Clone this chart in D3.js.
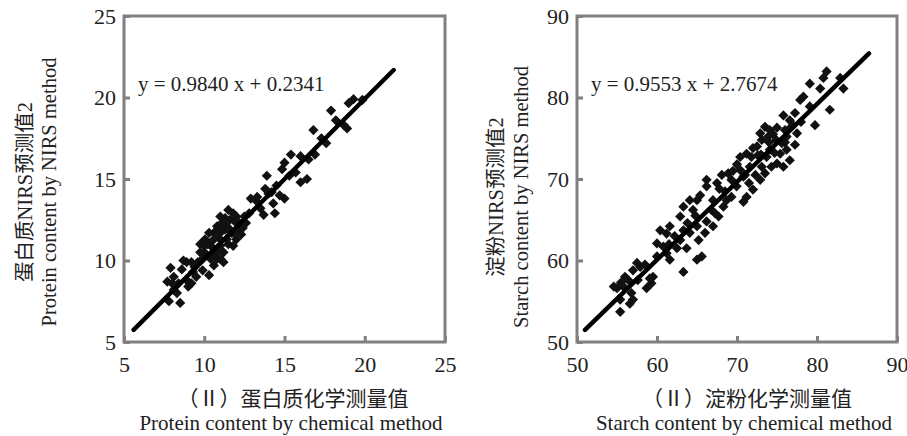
<!DOCTYPE html>
<html>
<head>
<meta charset="utf-8">
<script src="https://cdn.jsdelivr.net/npm/d3@7"></script>
<style>
  body { margin: 0; background: #fff; }
  text { font-family: "Liberation Serif", "Noto Sans CJK SC", serif; fill: #222; }
</style>
</head>
<body>
<svg id="chart" width="907" height="436"></svg>
<script>
// protein panel: [chemical, NIRS]
var proteinPoints = [
  [19.3, 19.9], [19.0, 19.65], [19.85, 19.85], [18.9, 18.1], [18.7, 18.3], [17.9, 19.2],
  [18.2, 18.6], [16.8, 18.0], [17.6, 17.2], [16.9, 16.5], [16.0, 16.4], [15.4, 16.5],
  [15.0, 16.0], [16.4, 15.0], [16.0, 14.8], [15.7, 15.4], [14.85, 15.6], [13.9, 15.2],
  [14.2, 14.2], [14.5, 14.6], [15.0, 13.8], [14.3, 13.5], [14.4, 12.9], [13.7, 12.8],
  [13.8, 14.4], [12.9, 13.8], [13.2, 13.7], [12.5, 12.7], [12.25, 12.1], [11.8, 11.7],
  [11.5, 13.1], [11.6, 12.5], [11.8, 12.9], [12.0, 11.3], [11.8, 10.9], [11.4, 11.3],
  [11.0, 11.7], [10.8, 12.1], [10.6, 11.7], [10.3, 11.7], [10.4, 10.9], [10.0, 10.9],
  [9.75, 10.5], [10.2, 10.3], [10.6, 10.5], [10.8, 10.1], [11.2, 9.9], [10.6, 9.7],
  [10.3, 9.1], [9.9, 9.4], [9.6, 9.9], [9.3, 9.3], [8.9, 9.9], [8.7, 10.0],
  [8.6, 9.45], [9.1, 8.6], [8.9, 8.8], [8.1, 9.0], [7.9, 9.55], [7.7, 8.7],
  [8.1, 8.2], [7.8, 7.5], [8.5, 7.4], [8.3, 8.0], [9.0, 8.4], [9.75, 11.0],
  [10.05, 11.3], [11.0, 10.9], [11.2, 10.5], [11.7, 11.7], [12.1, 11.9], [11.4, 12.1],
  [11.1, 12.3], [11.0, 12.7], [12.8, 12.9], [13.3, 13.9], [10.8, 10.5], [10.4, 10.1],
  [10.0, 10.5], [9.5, 9.0], [12.3, 11.6], [11.9, 12.4], [14.7, 14.0], [15.3, 15.2],
  [10.2, 11.0], [10.5, 11.2], [10.9, 11.4], [11.3, 11.9], [11.6, 11.9], [12.2, 12.3],
  [12.4, 12.0], [12.6, 12.3], [9.9, 10.1], [9.4, 9.6], [9.2, 9.9], [10.5, 10.3],
  [11.0, 10.1], [11.5, 11.0], [12.0, 12.7], [11.3, 12.6], [10.9, 11.9], [9.2, 8.6],
  [8.4, 8.6], [8.0, 8.6], [13.5, 13.2], [14.0, 14.1], [16.5, 16.2], [17.3, 17.5]
];

// starch panel: [chemical, NIRS]
var starchPoints = [
  [81.2, 83.2], [80.8, 82.4], [82.9, 82.4], [83.3, 81.1], [79.1, 81.7], [78.3, 80.1],
  [80.4, 81.1], [81.6, 78.5], [79.75, 76.6], [77.25, 78.1], [76.6, 77.2], [75.8, 77.8],
  [77.5, 75.6], [77.25, 74.2], [76.2, 75.2], [76.6, 72.3], [75.8, 71.5], [75.0, 71.9],
  [75.4, 73.1], [74.1, 73.6], [73.5, 76.4], [72.9, 75.6], [73.9, 75.2], [73.1, 74.8],
  [72.5, 74.0], [71.8, 72.7], [71.2, 73.1], [70.4, 72.7], [73.7, 72.7], [73.1, 71.5],
  [72.9, 69.9], [72.0, 68.7], [71.2, 67.8], [70.8, 67.2], [70.4, 71.1], [70.8, 70.3],
  [69.95, 69.1], [69.3, 67.8], [68.7, 67.4], [68.3, 66.6], [68.9, 70.7], [68.1, 70.5],
  [69.3, 69.9], [67.5, 69.5], [67.0, 67.4], [67.25, 65.8], [67.7, 65.4], [67.0, 64.2],
  [66.2, 64.8], [66.2, 69.9], [66.2, 69.1], [65.4, 68.0], [65.0, 67.4], [64.1, 67.4],
  [63.3, 66.6], [62.9, 65.4], [64.5, 66.2], [65.0, 64.2], [66.0, 63.4], [65.2, 62.5],
  [64.1, 63.4], [63.3, 63.7], [62.9, 62.5], [62.5, 61.5], [63.7, 61.5], [61.6, 64.2],
  [61.2, 63.3], [60.4, 63.7], [60.0, 62.1], [60.8, 61.7], [61.6, 60.1], [65.6, 60.5],
  [65.0, 60.1], [63.3, 58.6], [59.5, 58.0], [58.7, 56.6], [57.5, 59.7], [57.9, 59.2],
  [57.0, 58.8], [56.0, 58.0], [55.8, 56.8], [55.0, 56.6], [56.8, 56.0], [55.4, 55.2],
  [57.0, 55.2], [56.6, 54.7], [55.4, 53.7], [59.1, 57.8], [59.3, 57.2], [54.6, 56.8],
  [60.0, 60.5], [61.2, 60.9], [74.9, 74.8], [75.6, 74.4], [76.2, 73.6], [74.3, 71.5],
  [73.5, 70.7], [71.6, 71.5], [74.1, 76.0], [76.8, 76.4], [77.9, 79.7], [79.1, 78.9],
  [72.0, 73.8], [72.6, 72.9], [74.5, 75.5], [75.0, 76.3], [76.0, 76.0], [74.0, 74.5],
  [73.0, 73.0], [71.0, 70.5], [70.0, 71.8], [69.5, 71.0], [71.5, 69.5], [72.3, 70.5],
  [68.5, 68.5], [67.8, 68.8], [66.8, 66.2], [64.8, 65.5], [63.8, 64.6], [62.2, 63.0],
  [61.5, 62.0], [58.5, 59.5], [56.5, 57.5], [55.5, 57.3], [57.6, 57.6], [78.0, 77.0],
  [77.0, 76.6], [74.7, 73.2], [76.0, 74.5]
];

var proteinTicks = [5, 10, 15, 20, 25];
var starchTicks = [50, 60, 70, 80, 90];

var panels = [
  {
    points: proteinPoints, ticks: proteinTicks, domain: [5, 25],
    fit: [0.9840, 0.2341], fitRange: [5.6, 21.8],
    equation: "y = 0.9840 x + 0.2341",
    yTitle: ["蛋白质NIRS预测值2", "Protein content by NIRS method"],
    xTitle: ["（Ⅱ）蛋白质化学测量值", "Protein content by chemical method"],
    left: 124, right: 445, yTitleX: [32, 56], yTitleY: 192, xTitleX: [293, 291]
  },
  {
    points: starchPoints, ticks: starchTicks, domain: [50, 90],
    fit: [0.9553, 2.7674], fitRange: [51.0, 86.5],
    equation: "y = 0.9553 x + 2.7674",
    yTitle: ["淀粉NIRS预测值2", "Starch content by NIRS method"],
    xTitle: ["（Ⅱ）淀粉化学测量值", "Starch content by chemical method"],
    left: 577, right: 897, yTitleX: [503, 528], yTitleY: 197, xTitleX: [747, 744]
  }
];

var svg = d3.select("#chart");
var plotTop = 16, plotBottom = 342;

panels.forEach(function(p) {
  var x = d3.scaleLinear().domain(p.domain).range([p.left, p.right]);
  var y = d3.scaleLinear().domain(p.domain).range([plotBottom, plotTop]);
  var g = svg.append("g");

  // axes, ticks point inward
  var xAxis = g.append("g")
      .attr("transform", "translate(0," + plotBottom + ")")
      .call(d3.axisBottom(x).tickValues(p.ticks).tickSize(-6).tickPadding(14));
  var yAxis = g.append("g")
      .attr("transform", "translate(" + p.left + ",0)")
      .call(d3.axisLeft(y).tickValues(p.ticks).tickSize(-6).tickPadding(8));
  [xAxis, yAxis].forEach(function(a) {
    a.select(".domain").remove();
    a.selectAll("line").attr("stroke", "#808080").attr("stroke-width", 3);
    a.selectAll("text")
        .style("font-family", "'Liberation Serif', serif")
        .style("font-size", "22px")
        .attr("fill", "#222");
  });

  // frame
  g.append("rect")
      .attr("x", p.left).attr("y", plotTop)
      .attr("width", p.right - p.left).attr("height", plotBottom - plotTop)
      .attr("fill", "none")
      .attr("stroke", "#808080")
      .attr("stroke-width", 3);

  // points
  g.append("g")
    .selectAll("path")
    .data(p.points)
    .join("path")
      .attr("d", d3.symbol(d3.symbolSquare, 52))
      .attr("transform", function(d) { return "translate(" + x(d[0]) + "," + y(d[1]) + ") rotate(45)"; })
      .attr("fill", "#111");

  // fitted line
  g.append("line")
      .attr("x1", x(p.fitRange[0])).attr("y1", y(p.fit[0] * p.fitRange[0] + p.fit[1]))
      .attr("x2", x(p.fitRange[1])).attr("y2", y(p.fit[0] * p.fitRange[1] + p.fit[1]))
      .attr("stroke", "#000")
      .attr("stroke-width", 4.5)
      .attr("stroke-linecap", "round");

  g.append("text")
      .attr("x", p.left + 14)
      .attr("y", 91)
      .style("font-size", "21px")
      .text(p.equation);

  // y title (two rotated lines)
  p.yTitle.forEach(function(t, i) {
    g.append("text")
        .attr("transform", "translate(" + p.yTitleX[i] + "," + p.yTitleY + ") rotate(-90)")
        .attr("text-anchor", "middle")
        .style("font-size", "20.5px")
        .text(t);
  });

  // x title
  p.xTitle.forEach(function(t, i) {
    g.append("text")
        .attr("x", p.xTitleX[i])
        .attr("y", i === 0 ? 406 : 430)
        .attr("text-anchor", "middle")
        .style("font-size", "21px")
        .text(t);
  });
});
</script>
</body>
</html>
